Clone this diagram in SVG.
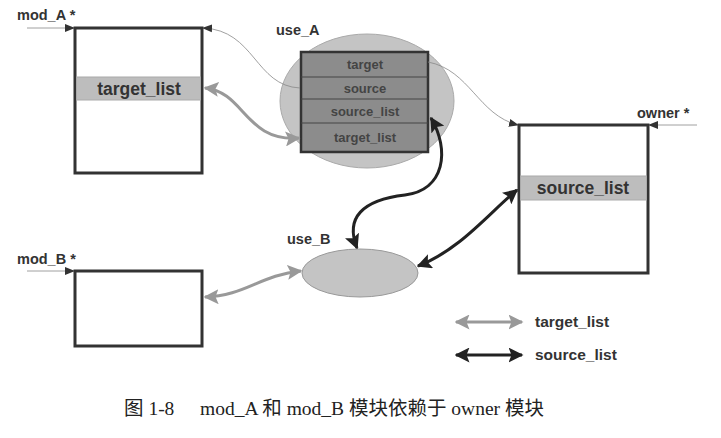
<svg xmlns="http://www.w3.org/2000/svg" width="721" height="438" viewBox="0 0 721 438">
<defs>
<style>
.box{fill:#fff;stroke:#333;stroke-width:3}
.band{fill:#bdbdbd;stroke:#aaa;stroke-width:1}
.lbl{font-family:"Liberation Sans",Arial,sans-serif;font-size:14.5px;font-weight:bold;fill:#333}
.leg{font-family:"Liberation Sans",Arial,sans-serif;font-size:15.5px;font-weight:bold;fill:#333}
.btxt{font-family:"Liberation Sans",Arial,sans-serif;font-size:17.5px;font-weight:bold;fill:#333;text-anchor:middle}
.row{font-family:"Liberation Sans",Arial,sans-serif;font-size:13px;font-weight:bold;fill:#444;text-anchor:middle}
.thin{fill:none;stroke:#888;stroke-width:0.8}
.gray{fill:none;stroke:#999;stroke-width:3}
.dark{fill:none;stroke:#222;stroke-width:3}
.cap{font-family:"Liberation Serif","Noto Sans CJK SC",serif;font-size:19.5px;fill:#222}
</style>
<marker id="ah" viewBox="0 0 10 10" refX="9" refY="5" markerWidth="10" markerHeight="10" markerUnits="userSpaceOnUse" orient="auto"><path d="M0,1 L10,5 L0,9 Z" fill="#333"/></marker>
<marker id="ag" viewBox="0 0 10 10" refX="9" refY="5" markerWidth="5" markerHeight="5" orient="auto-start-reverse"><path d="M0,0 L10,5 L0,10 L2,5 Z" fill="#999"/></marker>
<marker id="ad" viewBox="0 0 10 10" refX="9" refY="5" markerWidth="5" markerHeight="5" orient="auto-start-reverse"><path d="M0,0 L10,5 L0,10 L2,5 Z" fill="#222"/></marker>
</defs>
<rect width="721" height="438" fill="#fff"/>

<g id="mod_A">
<text class="lbl" x="17" y="20">mod_A *</text>
<rect class="box" x="75" y="28" width="127" height="145"/>
<rect class="band" x="76.5" y="77" width="124" height="23"/>
<text class="btxt" x="139" y="95">target_list</text>
</g>

<g id="use_A">
<ellipse cx="367" cy="101" rx="87" ry="67" fill="#c4c4c4" stroke="#aaa"/>
<rect x="301" y="52" width="127" height="100" fill="#8c8c8c" stroke="#333" stroke-width="2.5"/>
<line x1="301" y1="77" x2="428" y2="77" stroke="#444"/>
<line x1="301" y1="99" x2="428" y2="99" stroke="#444"/>
<line x1="301" y1="123" x2="428" y2="123" stroke="#444"/>
<text class="row" x="365" y="69">target</text>
<text class="row" x="365" y="93">source</text>
<text class="row" x="365" y="116">source_list</text>
<text class="row" x="365" y="142">target_list</text>
<text class="lbl" x="276" y="35">use_A</text>
</g>

<g id="owner">
<text class="lbl" x="637" y="118">owner *</text>
<rect class="box" x="519" y="125" width="129" height="148"/>
<rect class="band" x="520.5" y="176" width="126" height="24"/>
<text class="btxt" x="583" y="194">source_list</text>
</g>

<g id="mod_B">
<text class="lbl" x="17" y="264">mod_B *</text>
<rect class="box" x="75" y="271" width="127" height="75"/>
</g>

<g id="use_B">
<ellipse cx="360" cy="273" rx="58" ry="24" fill="#c4c4c4" stroke="#999"/>
<text class="lbl" x="287" y="244">use_B</text>
</g>

<g id="connectors">
<line class="thin" x1="27" y1="28" x2="74" y2="28" marker-end="url(#ah)"/>
<line class="thin" x1="27" y1="271" x2="74" y2="271" marker-end="url(#ah)"/>
<line class="thin" x1="697" y1="125" x2="649" y2="125" marker-end="url(#ah)"/>
<path class="thin" d="M300,88 C255,86 255,30 203,28" marker-end="url(#ah)"/>
<path class="thin" d="M428,62 C470,70 478,115 518,125" marker-end="url(#ah)"/>
<path class="gray" d="M205,88 C245,92 245,142 299,138" marker-start="url(#ag)" marker-end="url(#ag)"/>
<path class="gray" d="M205,297 C245,296 260,275 301,271" marker-start="url(#ag)" marker-end="url(#ag)"/>
<path class="dark" d="M431,118 C450,150 445,190 405,195 C362,200 345,218 357,248" marker-start="url(#ad)" marker-end="url(#ad)"/>
<path class="dark" d="M418,266 C460,250 490,212 517,190" marker-start="url(#ad)" marker-end="url(#ad)"/>
</g>

<g id="legend">
<line class="gray" x1="456" y1="322" x2="522" y2="322" marker-start="url(#ag)" marker-end="url(#ag)"/>
<line class="dark" x1="456" y1="355" x2="522" y2="355" marker-start="url(#ad)" marker-end="url(#ad)"/>
<text class="leg" x="535" y="327">target_list</text>
<text class="leg" x="535" y="360">source_list</text>
</g>

<g id="caption">
<text class="cap" x="124" y="415">图 1-8</text>
<text class="cap" x="200" y="415">mod_A 和 mod_B 模块依赖于 owner 模块</text>
</g>
</svg>
